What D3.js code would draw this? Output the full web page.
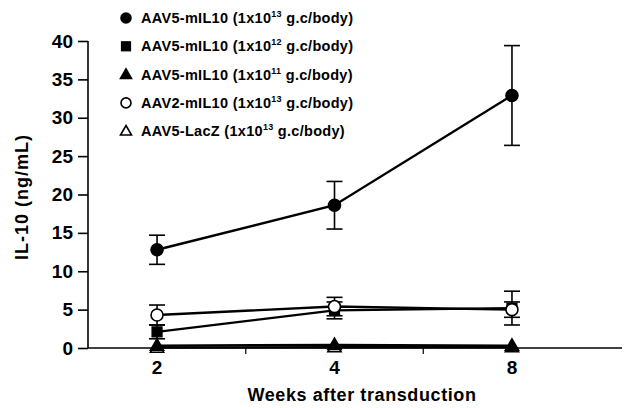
<!DOCTYPE html>
<html>
<head>
<meta charset="utf-8">
<script src="https://cdn.jsdelivr.net/npm/d3@7/dist/d3.min.js"></script>
<style>
  html, body { margin: 0; padding: 0; background: #fff; }
  svg { display: block; font-family: "Liberation Sans", Arial, sans-serif; font-weight: bold; }
</style>
</head>
<body>
<svg id="chart" width="625" height="408"></svg>
<script>
// Time points (weeks after transduction)
const weeks = ["2", "4", "8"];
const yTicks = [0, 5, 10, 15, 20, 25, 30, 35, 40];

// Series: mean IL-10 (ng/mL) and SD per time point
const seriesNames = [
  { base: "AAV5-mIL10 (1x10", exp: "13", tail: " g.c/body)" },
  { base: "AAV5-mIL10 (1x10", exp: "12", tail: " g.c/body)" },
  { base: "AAV5-mIL10 (1x10", exp: "11", tail: " g.c/body)" },
  { base: "AAV2-mIL10 (1x10", exp: "13", tail: " g.c/body)" },
  { base: "AAV5-LacZ (1x10", exp: "13", tail: " g.c/body)" }
];
const aav5High = [12.8, 18.6, 32.9];
const aav5HighErr = [1.9, 3.1, 6.5];
const aav5Mid = [2.1, 4.9, 5.2];
const aav5MidErr = [0.9, 1.1, 2.2];
const aav5Low = [0.3, 0.4, 0.3];
const aav5LowErr = [0, 0, 0];
const aav2High = [4.3, 5.4, 5.0];
const aav2HighErr = [1.3, 1.2, 1.0];
const lacZ = [0.05, 0.1, 0.1];
const lacZErr = [0, 0, 0];

const markerKinds = ["circle", "square", "triangle", "circle", "triangle"];
const markerFilled = [true, true, true, false, false];
const values = [aav5High, aav5Mid, aav5Low, aav2High, lacZ];
const errors = [aav5HighErr, aav5MidErr, aav5LowErr, aav2HighErr, lacZErr];

const svg = d3.select("#chart");
const x = d3.scalePoint().domain(weeks).range([88, 581]).padding(0.389);
const y = d3.scaleLinear().domain([0, 40]).range([348, 41]);

// y axis
const yAxis = d3.axisLeft(y).tickValues(yTicks).tickSize(10).tickPadding(5);
const gy = svg.append("g").attr("transform", "translate(88,0)").call(yAxis);
gy.select(".domain").attr("stroke", "#000").attr("stroke-width", 1.6).attr("d", `M0,${y(40)}V${y(0)}`);
gy.selectAll(".tick line").attr("stroke", "#000").attr("stroke-width", 1.6);
gy.selectAll(".tick text").attr("font-size", 19).attr("font-weight", "bold")
  .attr("fill", "#000").attr("font-family", "Liberation Sans, Arial, sans-serif");

// x axis baseline running to the right edge, minor ticks between weeks, and labels
const step = x.step();
const gx = svg.append("g");
gx.append("line").attr("x1", 88).attr("x2", 622).attr("y1", y(0)).attr("y2", y(0))
  .attr("stroke", "#000").attr("stroke-width", 1.6);
const halfTicks = [x(weeks[0]) + step / 2, x(weeks[1]) + step / 2];
gx.selectAll("line.minor").data(halfTicks).enter().append("line")
  .attr("class", "minor")
  .attr("x1", d => d).attr("x2", d => d)
  .attr("y1", y(0)).attr("y2", y(0) + 6)
  .attr("stroke", "#000").attr("stroke-width", 1.2);
svg.selectAll("text.xlab").data(weeks).enter().append("text")
  .attr("class", "xlab")
  .attr("x", d => x(d)).attr("y", 374)
  .attr("text-anchor", "middle").attr("font-size", 19).text(d => d);

// axis titles
svg.append("text").attr("x", 362).attr("y", 401).attr("text-anchor", "middle")
  .attr("font-size", 18).attr("letter-spacing", 0.6).text("Weeks after transduction");
svg.append("text").attr("transform", "translate(28,197) rotate(-90)")
  .attr("text-anchor", "middle").attr("font-size", 18).attr("letter-spacing", 1)
  .text("IL-10 (ng/mL)");

function drawMarker(g, kind, filled, cx, cy, s) {
  const fill = filled ? "#000" : "#fff";
  if (kind === "circle") {
    g.append("circle").attr("cx", cx).attr("cy", cy).attr("r", s)
      .attr("fill", fill).attr("stroke", "#000").attr("stroke-width", 1.6);
  } else if (kind === "square") {
    g.append("rect").attr("x", cx - s).attr("y", cy - s).attr("width", 2 * s).attr("height", 2 * s)
      .attr("fill", fill).attr("stroke", "#000").attr("stroke-width", 1.2);
  } else {
    const h = s * 1.9;
    g.append("path")
      .attr("d", `M${cx},${cy - h * 0.6}L${cx + s * 1.1},${cy + h * 0.4}L${cx - s * 1.1},${cy + h * 0.4}Z`)
      .attr("fill", fill).attr("stroke", "#000").attr("stroke-width", 1.6);
  }
}

// series lines, error bars and markers (drawn bottom series first)
const line = d3.line().x(d => x(d.w)).y(d => y(d.v));
const order = [4, 2, 1, 3, 0];
order.forEach(i => {
  const pts = weeks.map((w, j) => ({ w, v: values[i][j], e: errors[i][j] }));
  const g = svg.append("g");
  g.append("path").datum(pts).attr("d", line)
    .attr("fill", "none").attr("stroke", "#000").attr("stroke-width", 2.4);
  pts.forEach(p => {
    if (p.e > 0) {
      const cx = x(p.w);
      g.append("line").attr("x1", cx).attr("x2", cx).attr("y1", y(p.v - p.e)).attr("y2", y(p.v + p.e))
        .attr("stroke", "#000").attr("stroke-width", 1.6);
      [p.v - p.e, p.v + p.e].forEach(b => {
        g.append("line").attr("x1", cx - 8).attr("x2", cx + 8).attr("y1", y(b)).attr("y2", y(b))
          .attr("stroke", "#000").attr("stroke-width", 1.6);
      });
    }
  });
  pts.forEach(p => drawMarker(g, markerKinds[i], markerFilled[i], x(p.w), y(p.v), markerKinds[i] === "square" ? 5 : 6));
});

// legend
const legend = svg.append("g");
seriesNames.forEach((s, i) => {
  const ly = 18 + i * 28.3;
  drawMarker(legend, markerKinds[i], markerFilled[i], 126, ly, markerKinds[i] === "square" ? 4.5 : 5);
  const t = legend.append("text").attr("x", 141).attr("y", ly + 5).attr("font-size", 14.5)
    .attr("letter-spacing", 0.3);
  t.append("tspan").text(s.base);
  t.append("tspan").attr("font-size", 9).attr("dy", -6).text(s.exp);
  t.append("tspan").attr("dy", 6).text(s.tail);
});
</script>
</body>
</html>
